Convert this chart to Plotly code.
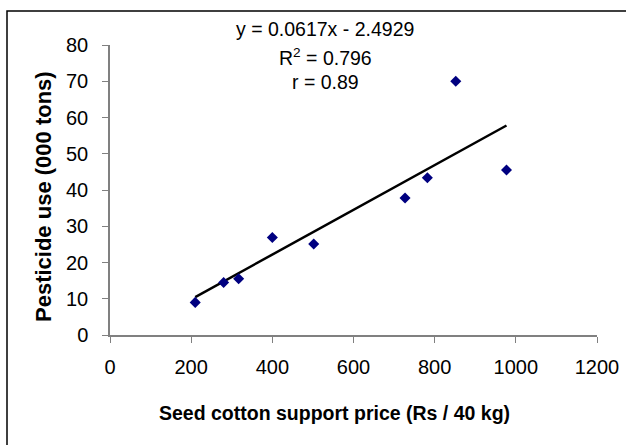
import plotly.graph_objects as go
import numpy as np

price = [210, 280, 317, 400, 502, 727, 782, 852, 977]
pesticide = [9.0, 14.5, 15.5, 26.9, 25.1, 37.8, 43.4, 70.0, 45.5]
slope = 0.0617
intercept = -2.4929
eq_lines = ["y = 0.0617x - 2.4929", "R<sup>2</sup> = 0.796", "r = 0.89"]
x_ticks = [0, 200, 400, 600, 800, 1000, 1200]
y_ticks = [0, 10, 20, 30, 40, 50, 60, 70, 80]
x_title = "Seed cotton support price (Rs / 40 kg)"
y_title = "Pesticide use (000 tons)"

# body margin removed by post_script, so figure sits at (0, 0)
W, H = 626, 445
# plot area in screen pixels
SX0, SX1, SY0, SY1 = 110, 597, 45, 335
L, R = SX0, W - SX1
T, B = SY0, H - SY1
pw, ph = W - L - R, H - T - B

def px(xs):
    return (xs - L) / pw

def py(ys):
    return (H - B - ys) / ph

FAM = "Liberation Sans, Arial, sans-serif"

fig = go.Figure()
fx = np.array([min(price), max(price)])
fig.add_trace(go.Scatter(x=fx, y=slope * fx + intercept, mode="lines",
                         line=dict(color="black", width=2.5), hoverinfo="skip"))
fig.add_trace(go.Scatter(x=price, y=pesticide, mode="markers",
                         marker=dict(symbol="diamond", size=8.5, color="#000080")))

for txt, ys in zip(eq_lines, [29, 57, 82]):
    fig.add_annotation(x=px(325), y=py(ys), xref="paper", yref="paper", text=txt,
                       showarrow=False, xanchor="center", yanchor="middle",
                       font=dict(family=FAM, size=19.5, color="black"))

fig.add_annotation(x=px(334), y=py(413), xref="paper", yref="paper",
                   text="<b>" + x_title + "</b>", showarrow=False,
                   xanchor="center", yanchor="middle",
                   font=dict(family=FAM, size=19.5, color="black"))
fig.add_annotation(x=px(44), y=py(197), xref="paper", yref="paper",
                   text="<b>" + y_title + "</b>", showarrow=False, textangle=-90,
                   xanchor="center", yanchor="middle",
                   font=dict(family=FAM, size=22, color="black"))

fig.add_shape(type="rect", xref="paper", yref="paper",
              x0=px(7), y0=py(470), x1=px(660), y1=py(11),
              line=dict(color="black", width=1.5), layer="below")

axis_common = dict(showgrid=False, zeroline=False, automargin=False,
                   showline=True, linecolor="#808080", linewidth=1.5,
                   ticks="outside", ticklen=6, tickcolor="#808080", tickwidth=1,
                   tickfont=dict(family=FAM, size=20, color="black"))

fig.update_layout(
    width=W, height=H, margin=dict(l=L, r=R, t=T, b=B),
    paper_bgcolor="white", plot_bgcolor="white", showlegend=False,
    font=dict(family=FAM, size=20, color="black"),
    xaxis=dict(range=[0, 1200], tickvals=x_ticks, ticklabelstandoff=7, **axis_common),
    yaxis=dict(range=[0, 80], tickvals=y_ticks, ticklabelstandoff=10, **axis_common),
)

fig.write_html("out.html", config={"displayModeBar": False},
               post_script="document.body.style.margin='0';document.body.style.overflow='hidden';")
